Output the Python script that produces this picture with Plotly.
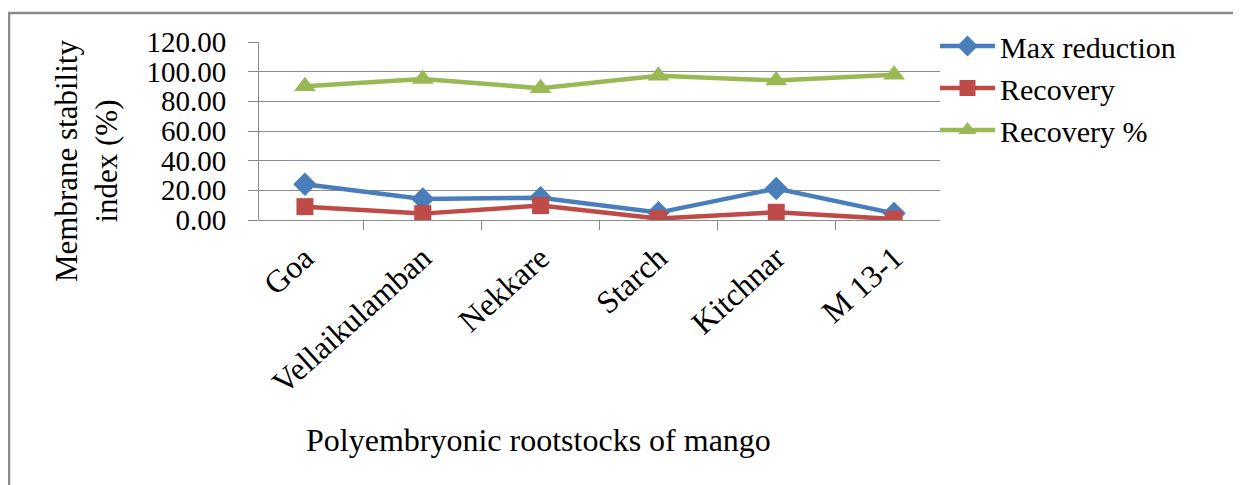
import plotly.graph_objects as go

categories = ["Goa", "Vellaikulamban", "Nekkare", "Starch", "Kitchnar", "M 13-1"]
max_reduction = [24.1, 14.2, 15.0, 5.0, 21.2, 4.5]
recovery = [9.0, 4.3, 9.7, 1.0, 5.2, 0.6]
recovery_pct = [90.1, 95.0, 88.9, 97.3, 94.1, 97.9]
y_ticks = [0, 20, 40, 60, 80, 100, 120]

FONT = "Liberation Serif, Times New Roman, serif"
# page has an 8px body margin; figure coords = page coords - 8
W, H = 1233, 477
L, R, T, B = 251, 301, 34, 265
PW, PH = W - L - R, H - T - B


def px(x):
    return (x - L) / PW


def py(y):
    return (H - B - y) / PH


fig = go.Figure()
fig.add_trace(go.Scatter(x=categories, y=max_reduction, name="Max reduction",
                         mode="lines+markers",
                         line=dict(color="#4A7EBB", width=4.5),
                         marker=dict(symbol="diamond", size=18, color="#4A7EBB")))
fig.add_trace(go.Scatter(x=categories, y=recovery, name="Recovery",
                         mode="lines+markers",
                         line=dict(color="#BE4B48", width=4.5),
                         marker=dict(symbol="square", size=17, color="#BE4B48")))
fig.add_trace(go.Scatter(x=categories, y=recovery_pct, name="Recovery %",
                         mode="lines+markers",
                         line=dict(color="#98B954", width=4.5),
                         marker=dict(symbol="triangle-up", size=19, color="#98B954")))

fig.update_layout(
    width=W, height=H,
    margin=dict(l=L, r=R, t=T, b=B, autoexpand=False),
    paper_bgcolor="white", plot_bgcolor="white",
    font=dict(family=FONT, size=28, color="black"),
    showlegend=True,
    legend=dict(x=1 - 5 / PW, y=1 + (T - 12) / PH, xanchor="left", yanchor="top",
                font=dict(family=FONT, size=30, color="black"),
                bgcolor="rgba(0,0,0,0)", tracegroupgap=0, itemwidth=55),
    xaxis=dict(type="category", tickson="boundaries", ticks="outside",
               ticklen=9, tickcolor="#888888", tickangle=-42,
               ticklabelstandoff=12,
               showgrid=False, showline=False, zeroline=False,
               tickfont=dict(family=FONT, size=32, color="black")),
    yaxis=dict(range=[0, 120], tickvals=y_ticks,
               ticktext=[f"{v:.2f}" for v in y_ticks],
               ticks="outside", ticklen=10, tickcolor="#888888",
               ticklabelstandoff=16,
               showgrid=True, gridcolor="#8c8c8c", gridwidth=1,
               showline=True, linecolor="#8c8c8c", linewidth=1,
               zeroline=True, zerolinecolor="#8c8c8c", zerolinewidth=1,
               tickfont=dict(family=FONT, size=29, color="black")),
    shapes=[dict(type="rect", xref="paper", yref="paper",
                 x0=px(1), x1=px(W + 20), y0=py(H + 20), y1=py(5),
                 line=dict(color="#8a8a8a", width=2.5), fillcolor="rgba(0,0,0,0)",
                 layer="below")],
    annotations=[
        dict(text="Polyembryonic rootstocks of mango", xref="paper", yref="paper",
             x=px(530), y=py(432), xanchor="center", yanchor="middle",
             showarrow=False, font=dict(family=FONT, size=32, color="black")),
        dict(text="Membrane stability<br>index (%)", xref="paper", yref="paper",
             x=px(78), y=py(153), xanchor="center", yanchor="middle",
             showarrow=False, textangle=-90,
             font=dict(family=FONT, size=31, color="black")),
    ],
)

fig.write_html("out.html")
